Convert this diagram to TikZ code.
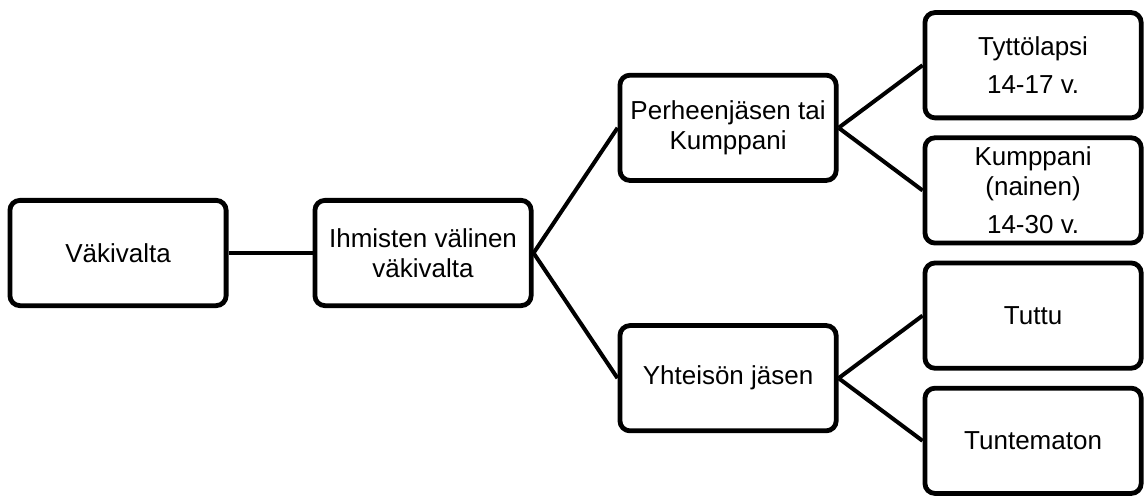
\documentclass[tikz,border=0pt]{standalone}
\usepackage{fontspec}
\setmainfont{Liberation Sans}
\usepackage{tikz}

\begin{document}
\begin{tikzpicture}
  \def\x{5.36}
  \def\y{1.1}
  \tikzset{box/.style={draw,rounded corners=5pt,line width=2.4pt,minimum width=3.8cm,minimum height=1.85cm,align=center,inner sep=2pt,font=\fontsize{13}{15}\selectfont}}
  \tikzset{link/.style={line width=2pt}}
  \useasboundingbox (-2.074,4.446) rectangle (18.082,-4.253);
  \node[box] (vak) at (0,0) {Väkivalta};
  \node[box] (ihm) at (1*\x,0) {Ihmisten välinen\\väkivalta};
  \node[box] (perhe) at (2*\x,2*\y) {Perheenjäsen tai\\Kumppani};
  \node[box] (yhteiso) at (2*\x,-2*\y) {Yhteisön jäsen};
  \node[box] (tytto) at (3*\x,3*\y) {Tyttölapsi\\[4pt]14-17 v.};
  \node[box] (kumppani) at (3*\x,1*\y) {Kumppani\\(nainen)\\[4pt]14-30 v.};
  \node[box] (tuttu) at (3*\x,-1*\y) {Tuttu};
  \node[box] (tuntematon) at (3*\x,-3*\y) {Tuntematon};
  \draw[link] (vak.east)--(ihm.west);
  \draw[link] (ihm.east)--(perhe.west);
  \draw[link] (ihm.east)--(yhteiso.west);
  \draw[link] (perhe.east)--(tytto.west);
  \draw[link] (perhe.east)--(kumppani.west);
  \draw[link] (yhteiso.east)--(tuttu.west);
  \draw[link] (yhteiso.east)--(tuntematon.west);
\end{tikzpicture}
\end{document}
